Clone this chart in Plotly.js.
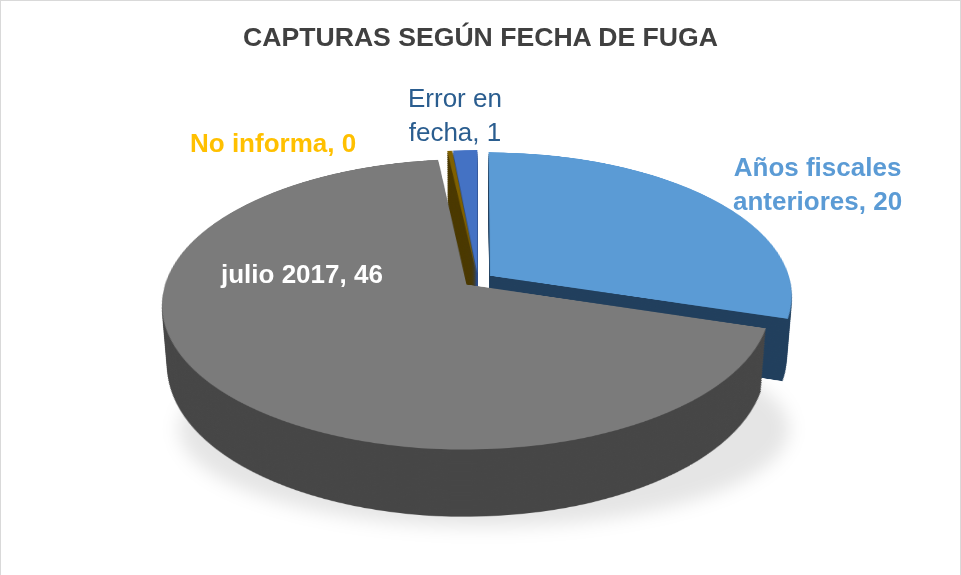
<!DOCTYPE html>
<html><head><meta charset="utf-8">
<script src="https://cdn.plot.ly/plotly-3.0.1.min.js"></script>
<style>
html,body{margin:0;padding:0;background:#fff;}
#chart{position:relative;width:961px;height:575px;overflow:hidden;background:#fff;box-sizing:border-box;border-left:1px solid #d9d9d9;border-top:1px solid #d9d9d9;border-right:1px solid #d9d9d9;}
.pie{position:absolute;left:162px;top:-36px;width:630px;height:630px;transform-origin:315px 315px;}
#shadow{position:absolute;left:178px;top:330px;width:610px;height:196px;border-radius:50%;background:rgba(0,0,0,0.10);filter:blur(9px);}
#labels{position:absolute;left:-1px;top:-1px;width:961px;height:575px;pointer-events:none;}
</style></head>
<body><div id="chart"><div id="shadow"></div></div>
<script>
// ---- data ----
const categories = ['Años fiscales anteriores', 'julio 2017', 'No informa', 'Error en fecha'];
const values = [20, 46, 0.2, 1];
const labelLines = ['Años fiscales<br>anteriores', 'julio 2017', 'No informa', 'Error en<br>fecha'];
// ---- styles ----
const topColors = ['#5B9BD5', '#7B7B7B', '#7F6000', '#4472C4'];
const sideColors = ['#213F5D', '#464646', '#4A3800', '#2A4A85'];
const textColors = ['#5B9BD5', '#FFFFFF', '#FFC000', '#2A5D8F'];
const textBold = [true, true, true, false];
const labelPos = [[817, 184], [301, 274], [273, 143], [455, 115]];

const chart = document.getElementById('chart');
const N = 28, T = 70;
const cfg = {staticPlot: true, displayModeBar: false};

function pieLayer(colors, z) {
  const d = document.createElement('div');
  d.className = 'pie';
  d.style.transform = 'perspective(1950px) rotateX(61.9deg) translateZ(' + (-z) + 'px)';
  chart.appendChild(d);
  Plotly.newPlot(d, [{
    type: 'pie', labels: categories, values: values, sort: false,
    direction: 'clockwise', rotation: 0, pull: [0.05, 0.05, 0.05, 0.05],
    marker: {colors: colors, line: {width: 0}}, textinfo: 'none', hoverinfo: 'skip',
    domain: {x: [0, 1], y: [0, 1]}
  }], {
    width: 630, height: 630, margin: {l: 0, r: 0, t: 0, b: 0},
    paper_bgcolor: 'rgba(0,0,0,0)', plot_bgcolor: 'rgba(0,0,0,0)', showlegend: false
  }, cfg);
}
for (let k = N; k >= 1; k--) pieLayer(sideColors, T * k / N);
pieLayer(topColors, 0);

const lab = document.createElement('div');
lab.id = 'labels';
chart.appendChild(lab);
const ann = categories.map((c, i) => {
  const t = labelLines[i] + ', ' + Math.round(values[i]);
  return {
    text: textBold[i] ? '<b>' + t.split('<br>').join('</b><br><b>') + '</b>' : t,
    x: labelPos[i][0] / 961, y: 1 - labelPos[i][1] / 575, xref: 'paper', yref: 'paper',
    xanchor: 'center', yanchor: 'middle', showarrow: false, align: 'center',
    font: {family: 'Liberation Sans, Arial, sans-serif', size: 26, color: textColors[i]}
  };
});
Plotly.newPlot(lab, [], {
  width: 961, height: 575, margin: {l: 0, r: 0, t: 0, b: 0},
  paper_bgcolor: 'rgba(0,0,0,0)', plot_bgcolor: 'rgba(0,0,0,0)',
  xaxis: {visible: false, range: [0, 1]}, yaxis: {visible: false, range: [0, 1]},
  title: {text: '<b>CAPTURAS SEGÚN FECHA DE FUGA</b>', x: 0.5, xanchor: 'center',
          y: 1 - 37 / 575, yanchor: 'middle',
          font: {family: 'Liberation Sans, Arial, sans-serif', size: 26.6, color: '#404040'}},
  annotations: ann, showlegend: false
}, cfg);
</script>
</body></html>
